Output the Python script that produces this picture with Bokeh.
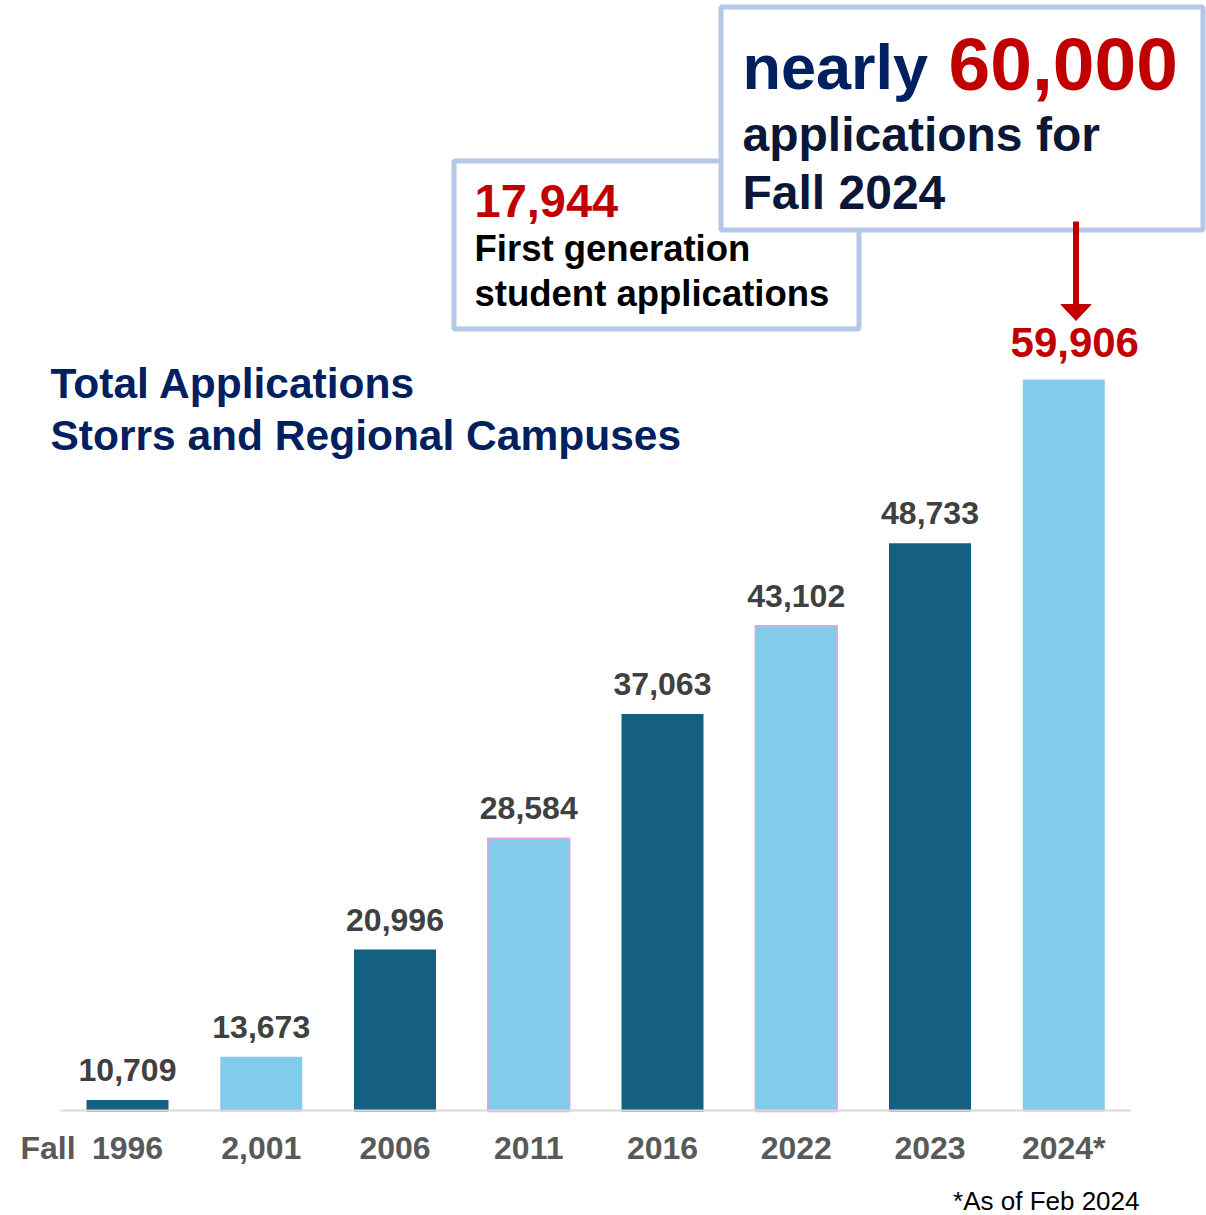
from bokeh.plotting import figure
from bokeh.models import Range1d, Label, ColumnDataSource
from bokeh.embed import file_html
from bokeh.resources import INLINE
from bokeh.core.properties import value

# ---- data ----
years = ["1996", "2,001", "2006", "2011", "2016", "2022", "2023", "2024*"]
applications = [10709, 13673, 20996, 28584, 37063, 43102, 48733, 59906]
value_labels = ["10,709", "13,673", "20,996", "28,584", "37,063", "43,102", "48,733", "59,906"]
first_gen = "17,944"
headline = "60,000"

# ---- style ----
DARK = "#156082"
LIGHT = "#83CBEB"
NAVY = "#002060"
RED = "#C00000"
BOXLINE = "#B4C7E7"
FONT = "Liberation Sans"
bar_colors = [DARK, LIGHT, DARK, LIGHT, DARK, LIGHT, DARK, LIGHT]
edge_alpha = [0, 0, 0, 1, 0, 1, 0, 0]
K = 0.37   # baseline correction (fraction of font size) for SVG text

W, H = 1206, 1215
PX_PER_CAT = 133.75
X0 = 127                  # page x of first bar centre
UNITS_PER_PX = 68.27
BASE_PX = 1111            # page y of value axis origin
BASE = 9932               # value at the axis origin (axis does not start at 0)
Y_BOTTOM = BASE - (H - BASE_PX) * UNITS_PER_PX
Y_TOP = BASE + BASE_PX * UNITS_PER_PX

p = figure(width=W, height=H, output_backend="svg", toolbar_location=None,
           x_range=Range1d(-X0 / PX_PER_CAT, (W - X0) / PX_PER_CAT),
           y_range=Range1d(Y_BOTTOM, Y_TOP),
           x_axis_location=None, y_axis_location=None,
           min_border_left=0, min_border_right=0, min_border_top=0, min_border_bottom=0)
p.extra_x_ranges = {"px": Range1d(0, W)}
p.extra_y_ranges = {"py": Range1d(H, 0)}
p.grid.visible = False
p.outline_line_color = None
p.background_fill_color = "white"
p.border_fill_color = "white"

idx = list(range(len(years)))
src = ColumnDataSource(dict(x=idx, top=applications, color=bar_colors,
                            ea=edge_alpha, lab=value_labels, yr=years))

p.vbar(x="x", top="top", bottom=BASE, width=0.613, source=src,
       fill_color="color", line_color="#E9A3DE", line_alpha="ea", line_width=1.5)

# baseline (category axis line)
p.segment(x0=[60], x1=[1130], y0=[1110], y1=[1110], x_range_name="px", y_range_name="py",
          line_color="#D9D9D9", line_width=2)

# category labels (x axis)
p.text(x=idx, y=[BASE] * len(idx), text=years, text_align="center",
       text_baseline="alphabetic", y_offset=48 - K * 32, text_font=value(FONT),
       text_font_style="bold", text_font_size="32px", text_color="#595959")

# value labels
n = len(years) - 1
p.text(x=idx[:n], y=applications[:n], text=value_labels[:n], text_align="center",
       text_baseline="alphabetic", y_offset=-18 - K * 32, text_font=value(FONT),
       text_font_style="bold", text_font_size="32px", text_color="#404040")
p.text(x=idx[n:], y=applications[n:], text=value_labels[n:], text_align="center",
       text_baseline="alphabetic", y_offset=-21 - K * 42, x_offset=11, text_font=value(FONT),
       text_font_style="bold", text_font_size="42px", text_color=RED)


def lab(x, y, text, size, color, bold=True, align="left"):
    p.add_layout(Label(x=x, y=y - K * size, x_range_name="px", y_range_name="py", text=text,
                       text_font=FONT, text_font_size=f"{size}px", text_color=color,
                       text_font_style="bold" if bold else "normal",
                       text_align=align, text_baseline="alphabetic"))


# boxes
p.quad(left=[453.5], right=[858.5], top=[160.5], bottom=[328.5], x_range_name="px",
       y_range_name="py", fill_color="white", line_color=BOXLINE, line_width=5)
p.quad(left=[720.5], right=[1202.5], top=[6.5], bottom=[229.5], x_range_name="px",
       y_range_name="py", fill_color="white", line_color=BOXLINE, line_width=5)

# arrow
p.segment(x0=[1075.5], x1=[1075.5], y0=[221], y1=[306], x_range_name="px", y_range_name="py",
          line_color=RED, line_width=6)
p.patch(x=[1060.5, 1090.5, 1075.5], y=[304, 304, 320], x_range_name="px", y_range_name="py",
        fill_color=RED, line_color=RED)

# box texts
lab(474, 218, first_gen, 47, RED)
lab(474, 262, "First generation", 36.5, "black")
lab(474, 307, "student applications", 36.5, "black")
lab(742, 90, "nearly", 63, NAVY)
lab(948, 91, headline, 75, RED)
lab(742, 152, "applications for", 48, "#0B1736")
lab(742, 210, "Fall 2024", 48, "#0B1736")

# title
lab(50, 399, "Total Applications", 42.5, NAVY)
lab(50, 451, "Storrs and Regional Campuses", 42.5, NAVY)

# bottom texts
lab(20, 1159, "Fall", 32, "#595959")
lab(1139, 1210, "*As of Feb 2024", 26, "black", bold=False, align="right")

open("out.html", "w").write(file_html(p, INLINE))
